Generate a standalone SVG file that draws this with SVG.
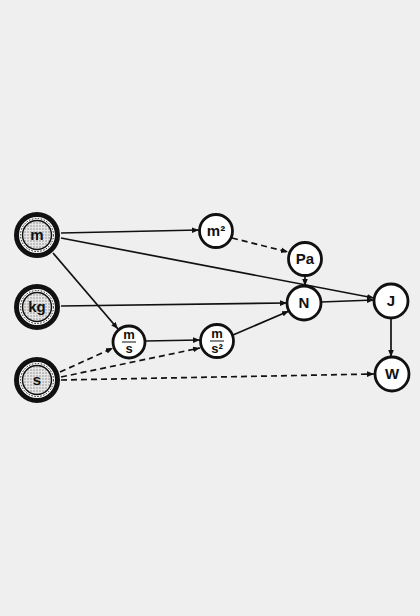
<svg xmlns="http://www.w3.org/2000/svg" width="420" height="616" viewBox="0 0 420 616">
<style>
.n{fill:#fff;stroke:#111;stroke-width:2.8}
.ring{fill:#fff;stroke:#111;stroke-width:5}
.dr{fill:none;stroke:#111;stroke-width:1;stroke-dasharray:1.5 1.5}
.st{fill:url(#dots);stroke:#111;stroke-width:1.5}
.t{font-family:"Liberation Sans",Arial,sans-serif;font-weight:bold;font-size:15px;fill:#111;text-anchor:middle}
.f{font-family:"Liberation Sans",Arial,sans-serif;font-weight:bold;font-size:13px;fill:#111;text-anchor:middle}
.e{stroke:#111;stroke-width:1.7;fill:none;marker-end:url(#a)}
.d{stroke-dasharray:6 4}
</style>
<defs>
<pattern id="dots" width="3" height="3" patternUnits="userSpaceOnUse">
<rect width="3" height="3" fill="#e6e6e6"/>
<circle cx="1" cy="1" r="0.7" fill="#7a7a7a"/>
</pattern>
<marker id="a" viewBox="0 0 10 10" refX="10" refY="5" markerWidth="7" markerHeight="7" markerUnits="userSpaceOnUse" orient="auto">
<path d="M0,1 L10,5 L0,9 z" fill="#111"/>
</marker>
</defs>
<rect width="420" height="616" fill="#efefef"/>
<g id="edges">
<line class="e" x1="61" y1="233" x2="199" y2="230"/>
<line class="e" x1="61" y1="238" x2="374" y2="298"/>
<line class="e" x1="53" y1="253" x2="118" y2="329"/>
<line class="e" x1="61" y1="306" x2="287" y2="303"/>
<line class="e d" x1="60" y1="372" x2="113" y2="348"/>
<line class="e d" x1="61" y1="377" x2="200" y2="348"/>
<line class="e d" x1="61" y1="380" x2="374" y2="374"/>
<line class="e" x1="145" y1="341" x2="200" y2="340"/>
<line class="e" x1="233" y1="335" x2="289" y2="311"/>
<line class="e d" x1="232" y1="238" x2="288" y2="252"/>
<line class="e" x1="305" y1="276" x2="305" y2="286"/>
<line class="e" x1="321" y1="302" x2="374" y2="300"/>
<line class="e" x1="391" y1="318" x2="391" y2="357"/>
</g>
<g id="m">
<circle class="ring" cx="37" cy="235" r="20.5"/>
<circle class="dr" cx="37" cy="235" r="16.5"/>
<circle class="st" cx="37" cy="235" r="14.5"/>
<text class="t" x="37" y="240">m</text>
</g>
<g id="kg">
<circle class="ring" cx="37" cy="307" r="20.5"/>
<circle class="dr" cx="37" cy="307" r="16.5"/>
<circle class="st" cx="37" cy="307" r="14.5"/>
<text class="t" x="37" y="312">kg</text>
</g>
<g id="s">
<circle class="ring" cx="37" cy="380" r="20.5"/>
<circle class="dr" cx="37" cy="380" r="16.5"/>
<circle class="st" cx="37" cy="380" r="14.5"/>
<text class="t" x="37" y="385">s</text>
</g>
<g id="m2">
<circle class="n" cx="216" cy="231" r="16.5"/>
<text class="t" x="216" y="236">m²</text>
</g>
<g id="ms">
<circle class="n" cx="129" cy="342" r="16"/>
<text class="f" x="129" y="339">m</text>
<line x1="122" y1="342" x2="136" y2="342" stroke="#111" stroke-width="1"/>
<text class="f" x="129" y="353">s</text>
</g>
<g id="ms2">
<circle class="n" cx="217" cy="341" r="16.5"/>
<text class="f" x="217" y="338">m</text>
<line x1="210" y1="341" x2="224" y2="341" stroke="#111" stroke-width="1"/>
<text class="f" x="217" y="353">s²</text>
</g>
<g id="Pa">
<circle class="n" cx="305" cy="259" r="16.5"/>
<text class="t" x="305" y="264">Pa</text>
</g>
<g id="N">
<circle class="n" cx="304" cy="303" r="17"/>
<text class="t" x="304" y="308">N</text>
</g>
<g id="J">
<circle class="n" cx="391" cy="301" r="17"/>
<text class="t" x="391" y="306">J</text>
</g>
<g id="W">
<circle class="n" cx="392" cy="374" r="17"/>
<text class="t" x="392" y="379">W</text>
</g>
</svg>
